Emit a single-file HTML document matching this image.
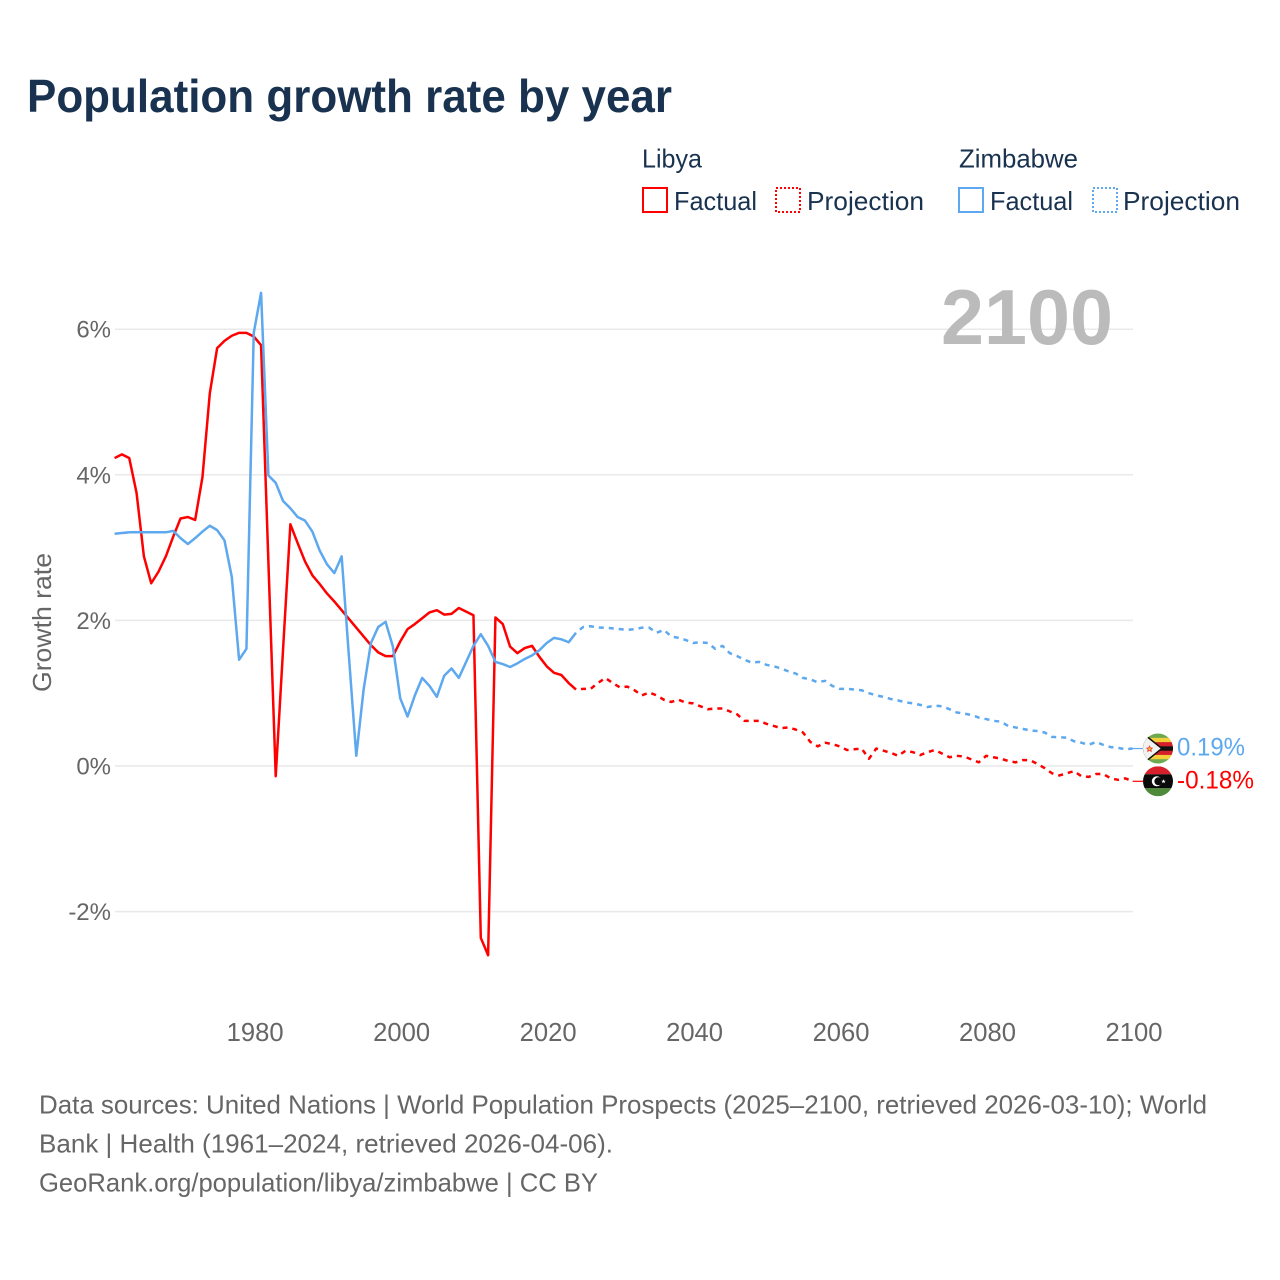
<!DOCTYPE html>
<html lang="en">
<head>
<meta charset="utf-8">
<title>Population growth rate by year</title>
<style>
html,body{margin:0;padding:0;background:#fff;}
#chart{display:block;width:1280px;height:1280px;font-family:"Liberation Sans",sans-serif;}
</style>
</head>
<body>
<svg id="chart" xmlns="http://www.w3.org/2000/svg" width="1280" height="1280" viewBox="0 0 1280 1280">
  <defs>
    <clipPath id="flag-clip"><circle cx="0" cy="0" r="15"/></clipPath>
  </defs>
  <rect x="0" y="0" width="1280" height="1280" fill="#fff"/>
  <text x="27" y="112" font-size="46" font-weight="700" fill="#18324f" textLength="645" lengthAdjust="spacingAndGlyphs">Population growth rate by year</text>

  <g font-size="26" fill="#18324f">
    <text x="642" y="167.5" textLength="60" lengthAdjust="spacingAndGlyphs">Libya</text>
    <text x="959" y="167.5" textLength="119" lengthAdjust="spacingAndGlyphs">Zimbabwe</text>
    <rect x="643" y="188" width="24" height="24" fill="none" stroke="#ff0000" stroke-width="2"/>
    <text x="674" y="210" textLength="83" lengthAdjust="spacingAndGlyphs">Factual</text>
    <rect x="776" y="188" width="24" height="24" fill="none" stroke="#ff0000" stroke-width="2" stroke-dasharray="2 2"/>
    <text x="807" y="210" textLength="117" lengthAdjust="spacingAndGlyphs">Projection</text>
    <rect x="959" y="188" width="24" height="24" fill="none" stroke="#5da8ee" stroke-width="2"/>
    <text x="990" y="210" textLength="83" lengthAdjust="spacingAndGlyphs">Factual</text>
    <rect x="1093" y="188" width="24" height="24" fill="none" stroke="#5da8ee" stroke-width="2" stroke-dasharray="2 2"/>
    <text x="1123" y="210" textLength="117" lengthAdjust="spacingAndGlyphs">Projection</text>
  </g>

  <text transform="translate(51,692) rotate(-90)" font-size="26" fill="#666" textLength="139" lengthAdjust="spacingAndGlyphs">Growth rate</text>

  <g id="grid"></g>
  <g id="y-ticks"></g>
  <g id="x-ticks"></g>

  <text x="1113" y="344" text-anchor="end" font-size="78" font-weight="700" fill="#bbbbbb" textLength="172" lengthAdjust="spacingAndGlyphs">2100</text>

  <g id="series"></g>
  <g id="ends"></g>

  <g font-size="26" fill="#666">
    <text x="39" y="1113.5" textLength="1168" lengthAdjust="spacingAndGlyphs">Data sources: United Nations | World Population Prospects (2025–2100, retrieved 2026-03-10); World</text>
    <text x="39" y="1152.5" textLength="574" lengthAdjust="spacingAndGlyphs">Bank | Health (1961–2024, retrieved 2026-04-06).</text>
    <text x="39" y="1191.5" textLength="559" lengthAdjust="spacingAndGlyphs">GeoRank.org/population/libya/zimbabwe | CC BY</text>
  </g>
</svg>
<script>
const factualStartYear = 1961;
const projectionStartYear = 2025;
const xTickYears = [1980, 2000, 2020, 2040, 2060, 2080, 2100];
const yTickValues = [6, 4, 2, 0, -2];
const yTickLabels = ['6%', '4%', '2%', '0%', '-2%'];
const libyaFactual = [4.23,4.28,4.23,3.75,2.88,2.51,2.67,2.88,3.15,3.40,3.42,3.38,3.97,5.12,5.74,5.84,5.91,5.95,5.95,5.90,5.78,2.80,-0.14,1.60,3.32,3.06,2.81,2.62,2.50,2.37,2.26,2.14,2.02,1.90,1.78,1.66,1.56,1.51,1.51,1.71,1.88,1.95,2.03,2.11,2.14,2.08,2.09,2.17,2.12,2.07,-2.36,-2.60,2.04,1.95,1.64,1.55,1.62,1.65,1.50,1.37,1.28,1.25,1.14,1.05];
const zimbabweFactual = [3.19,3.20,3.21,3.21,3.21,3.21,3.21,3.21,3.23,3.13,3.05,3.13,3.22,3.30,3.24,3.10,2.60,1.46,1.61,5.95,6.50,3.99,3.89,3.64,3.54,3.42,3.37,3.22,2.96,2.77,2.65,2.88,1.50,0.14,1.05,1.69,1.91,1.98,1.64,0.93,0.68,0.97,1.21,1.10,0.95,1.24,1.34,1.21,1.43,1.65,1.81,1.65,1.43,1.40,1.36,1.41,1.47,1.52,1.59,1.69,1.76,1.74,1.70,1.83];
const libyaProjection = [1.06,1.06,1.14,1.21,1.14,1.08,1.09,1.04,0.97,1.01,0.97,0.91,0.88,0.91,0.87,0.86,0.82,0.78,0.79,0.79,0.75,0.71,0.62,0.62,0.62,0.58,0.55,0.52,0.53,0.50,0.46,0.33,0.27,0.32,0.30,0.27,0.22,0.23,0.24,0.10,0.24,0.21,0.18,0.14,0.21,0.19,0.15,0.19,0.22,0.17,0.12,0.14,0.13,0.09,0.05,0.14,0.12,0.10,0.07,0.05,0.08,0.08,0.03,-0.03,-0.10,-0.13,-0.10,-0.07,-0.14,-0.15,-0.11,-0.11,-0.17,-0.19,-0.17,-0.21];
const zimbabweProjection = [1.91,1.92,1.90,1.90,1.89,1.88,1.87,1.88,1.90,1.90,1.83,1.87,1.78,1.76,1.73,1.69,1.70,1.69,1.61,1.65,1.55,1.51,1.46,1.42,1.43,1.39,1.37,1.34,1.30,1.27,1.21,1.19,1.15,1.17,1.10,1.06,1.06,1.05,1.04,1.00,0.97,0.95,0.92,0.90,0.875,0.86,0.84,0.81,0.83,0.82,0.78,0.735,0.72,0.70,0.665,0.645,0.62,0.61,0.55,0.53,0.51,0.49,0.48,0.46,0.40,0.395,0.39,0.34,0.32,0.29,0.33,0.29,0.26,0.25,0.23,0.24];
const zimbabweEndLabel = '0.19%';
const libyaEndLabel = '-0.18%';

const svgNS = 'http://www.w3.org/2000/svg';
const RED = '#ff0000';
const BLUE = '#5da8ee';
function xTickScale(year) { return 116 + (year - 1961) * (1134 - 116) / 139; }
function xScale(year) { return xTickScale(year) - 1.4; }
function yScale(v) { return 766 - v * 72.8; }
function make(tag, attrs, parent) {
  const el = document.createElementNS(svgNS, tag);
  for (const k in attrs) el.setAttribute(k, attrs[k]);
  parent.appendChild(el);
  return el;
}
function pathFrom(values, startYear, prefix) {
  let d = prefix;
  values.forEach(function (v, i) {
    d += (d ? 'L' : 'M') + xScale(startYear + i).toFixed(2) + ' ' + yScale(v).toFixed(2);
  });
  return d;
}

const grid = document.getElementById('grid');
const yTicks = document.getElementById('y-ticks');
yTickValues.forEach(function (v, i) {
  const line = make('line', {x1: 115, x2: 1133, y1: yScale(v), y2: yScale(v), stroke: '#e9e9e9', 'stroke-width': 1.5}, grid);
  
  
  const t = make('text', {x: 111, y: yScale(v) + 8.5, 'text-anchor': 'end', 'font-size': 24, fill: '#666'}, yTicks);
  t.textContent = yTickLabels[i];
  
  
});

const xTicks = document.getElementById('x-ticks');
xTickYears.forEach(function (yr) {
  const t = make('text', {x: xTickScale(yr), y: 1041, 'text-anchor': 'middle', 'font-size': 25.6, fill: '#666'}, xTicks);
  t.textContent = String(yr);
  
  
});

const series = document.getElementById('series');
function drawSeries(name, factual, projection, color) {
  const last = factual[factual.length - 1];
  const proj = make('path', {
    d: 'M' + xScale(projectionStartYear - 1).toFixed(2) + ' ' + yScale(last).toFixed(2) + pathFrom(projection, projectionStartYear, ' '),
    fill: 'none', stroke: color, 'stroke-width': 2.5, 'stroke-dasharray': '5 5', 'stroke-dashoffset': 5, 'stroke-linejoin': 'round'
  }, series);
  
  
  const fact = make('path', {
    d: pathFrom(factual, factualStartYear, ''),
    fill: 'none', stroke: color, 'stroke-width': 2.5, 'stroke-linejoin': 'round'
  }, series);
  
  
}
drawSeries('libya', libyaFactual, libyaProjection, RED);
drawSeries('zimbabwe', zimbabweFactual, zimbabweProjection, BLUE);

const ends = document.getElementById('ends');
const endX = xScale(2100);
const flagX = 1158;
const zimFlagY = yScale(zimbabweProjection[zimbabweProjection.length - 1]);
const libFlagY = yScale(libyaProjection[libyaProjection.length - 1]);

const zimConn = make('line', {x1: endX, y1: zimFlagY, x2: flagX - 14, y2: zimFlagY, stroke: BLUE, 'stroke-width': 1.2}, ends);


const libConn = make('line', {x1: endX, y1: libFlagY, x2: flagX - 14, y2: libFlagY, stroke: RED, 'stroke-width': 1.2}, ends);



const zimFlag = make('g', {transform: 'translate(' + flagX + ',' + zimFlagY + ')', 'clip-path': 'url(#flag-clip)'}, ends);


zimFlag.innerHTML =
  '<rect x="-15" y="-15" width="30" height="30" fill="#6ea84f"/>' +
  '<rect x="-15" y="-10.7" width="30" height="21.4" fill="#f4cf3a"/>' +
  '<rect x="-15" y="-6.4" width="30" height="12.8" fill="#d4202a"/>' +
  '<rect x="-15" y="-2.2" width="30" height="4.4" fill="#111"/>' +
  '<polygon points="-16,-17 5,0 -16,17" fill="#111"/>' +
  '<polygon points="-16,-15 2.6,0 -16,15" fill="#f2f2f2"/>' +
  '<polygon points="-8.5,-3.4 -7.3,-1 -4.8,-0.7 -6.6,1 -6.1,3.6 -8.5,2.4 -10.9,3.6 -10.4,1 -12.2,-0.7 -9.7,-1" fill="#e8483a"/>' +
  '<circle cx="-8.5" cy="0.3" r="1.2" fill="#f4cf3a"/>';

const libFlag = make('g', {transform: 'translate(' + flagX + ',' + libFlagY + ')', 'clip-path': 'url(#flag-clip)'}, ends);


libFlag.innerHTML =
  '<rect x="-15" y="-15" width="30" height="8" fill="#d8202c"/>' +
  '<rect x="-15" y="-7" width="30" height="14" fill="#0a0a0a"/>' +
  '<rect x="-15" y="7" width="30" height="8" fill="#4f8a3a"/>' +
  '<circle cx="-1.2" cy="0" r="5" fill="#fff"/>' +
  '<circle cx="0.4" cy="0" r="4" fill="#0a0a0a"/>' +
  '<polygon points="5.5,-2.2 6.1,-0.6 7.8,-0.6 6.5,0.4 7,2 5.5,1 4,2 4.5,0.4 3.2,-0.6 4.9,-0.6" fill="#fff"/>';

const zimLabel = make('text', {x: 1177, y: zimFlagY + 7, 'font-size': 25, fill: BLUE, textLength: 68, lengthAdjust: 'spacingAndGlyphs'}, ends);
zimLabel.textContent = zimbabweEndLabel;


const libLabel = make('text', {x: 1177, y: libFlagY + 7, 'font-size': 25, fill: RED, textLength: 77, lengthAdjust: 'spacingAndGlyphs'}, ends);
libLabel.textContent = libyaEndLabel;


</script>
</body>
</html>
